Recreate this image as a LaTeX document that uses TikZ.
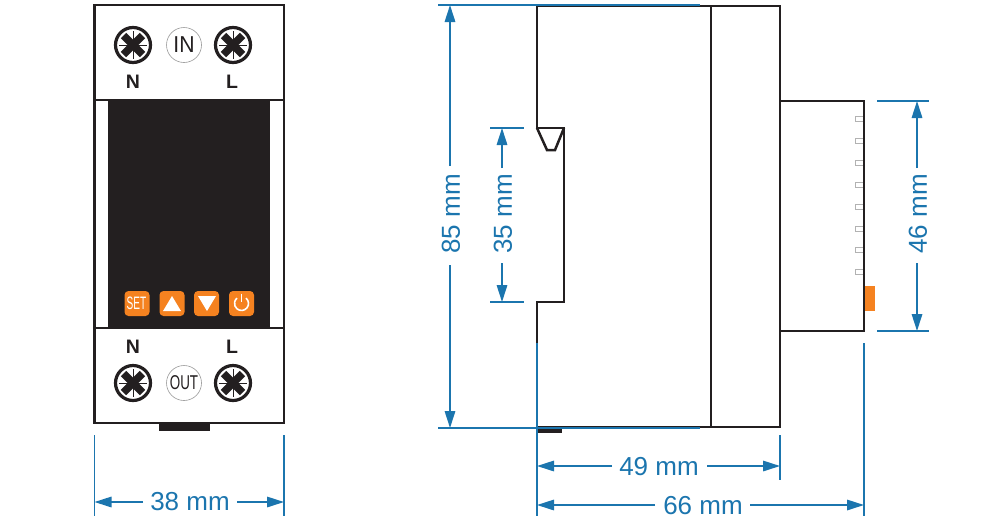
\documentclass[tikz,border=0pt]{standalone}
\usepackage{fontspec}
\usepackage{graphicx}
\setmainfont{Liberation Sans}
\usetikzlibrary{arrows.meta}
\definecolor{dimblue}{HTML}{1B75AE}
\definecolor{ink}{HTML}{231F20}
\definecolor{btn}{HTML}{F58220}
\tikzset{
  body/.style={draw=ink,line width=2.5pt,line join=miter},
  ext/.style={draw=dimblue,line width=1.4pt},
  dimline/.style={draw=dimblue,line width=1.6pt,-{Triangle[length=17pt,width=10.5pt]}},
  dimtext/.style={text=dimblue,font=\fontsize{26}{27}\selectfont,inner sep=0pt},
  termtext/.style={text=ink,font=\fontsize{19.5}{20}\bfseries\selectfont,inner sep=0pt},
  btnbox/.style={fill=btn,rounded corners=4pt},
  pinbox/.style={draw=black!30,line width=1pt,fill=white},
  badge/.style={circle,draw=black!40,line width=.6pt,fill=white,minimum size=35pt,inner sep=0pt,text=ink},
  screw/.pic={
    \draw[ink,line width=3.2pt,fill=white] (0,0) circle (17.5pt);
    \draw[ink,line width=.8pt] (-14,0) -- (14,0) (0,-14) -- (0,14);
    \draw[ink,line width=7.5pt] (-9.5,-9.5) -- (9.5,9.5) (-9.5,9.5) -- (9.5,-9.5);
  }
}
\begin{document}
\begin{tikzpicture}[x=1pt,y=-1pt]
\useasboundingbox (0,0) rectangle (1000,520);
% front view
\fill[ink] (108,100) rectangle (270,328);
\fill[ink] (159,423) rectangle (210,431);
\draw[body] (94.5,5) rectangle (284,423);
\draw[body] (94.5,100) -- (284,100);
\draw[body] (94.5,328) -- (284,328);
\pic at (133,45) {screw};
\pic at (233,45) {screw};
\pic at (133,383) {screw};
\pic at (233,383) {screw};
\node[badge] (in) at (184,45) {\fontsize{23}{24}\selectfont\scalebox{.92}[1]{IN}};
\node[badge] (out) at (184,383) {\fontsize{20}{21}\selectfont\scalebox{.67}[1]{OUT}};
\node[termtext] (n1) at (133,82) {N};
\node[termtext] (l1) at (232,82) {L};
\node[termtext] (n2) at (133,347) {N};
\node[termtext] (l2) at (232,347) {L};
% buttons
\fill[btnbox] (124.5,291) rectangle (149.5,316);
\fill[btnbox] (159.5,291) rectangle (184.5,316);
\fill[btnbox] (194,291) rectangle (219,316);
\fill[btnbox] (229,291) rectangle (254,316);
\node[text=white,inner sep=0pt] (set) at (136.5,303.5) {\fontsize{18}{18}\selectfont\scalebox{.56}[1]{SET}};
\fill[white] (172,296) -- (181,311) -- (163,311) -- cycle;
\fill[white] (198,296) -- (216,296) -- (207,311) -- cycle;
\draw[white,line width=1.6pt] (241.5,293.5) -- (241.5,302);
\draw[white,line width=1.6pt] (246,298.1) arc[start angle=-50,end angle=230,radius=7];
% side view
\draw[body] (537,6) -- (537,128) -- (564,128) -- (564,302) -- (537,302) -- (537,427) -- (780,427) -- (780,6) -- cycle;
\draw[body] (711,6) -- (711,427);
\draw[body] (537,128) -- (547,150) -- (555,150) -- (564,128);
\fill[ink] (537,426) rectangle (562,433);
\foreach \y in {119,141,163,185,207,229,250,272}
  \draw[pinbox] (855,\y-2.5) rectangle (864,\y+2.5);
\draw[body] (780,101) -- (864,101) -- (864,331) -- (780,331);
\fill[btn] (865,286) rectangle (875,311);
% dimension anchors
\coordinate (t85) at (450,5);
\coordinate (b85) at (450,428);
\coordinate (t35) at (502,128);
\coordinate (b35) at (502,302);
\coordinate (t46) at (917,101);
\coordinate (b46) at (917,331);
\coordinate (l38) at (94.5,502);
\coordinate (r38) at (284,502);
\coordinate (l49) at (537,466);
\coordinate (r49) at (780,466);
\coordinate (l66) at (537,505);
\coordinate (r66) at (864,505);
% extension lines
\draw[ext] (438,5) -- (700,5);
\draw[ext] (438,428) -- (700,428);
\draw[ext] (490,128) -- (524,128);
\draw[ext] (490,302) -- (524,302);
\draw[ext] (877,101) -- (929,101);
\draw[ext] (877,331) -- (929,331);
\draw[ext] (94.5,435) -- (94.5,516);
\draw[ext] (284,435) -- (284,516);
\draw[ext] (537,343) -- (537,516);
\draw[ext] (780,435) -- (780,480);
\draw[ext] (864,343) -- (864,516);
% labels
\node[dimtext,rotate=90] (d85) at (451,214) {85 mm};
\node[dimtext,rotate=90] (d35) at (503,214) {35 mm};
\node[dimtext,rotate=90] (d46) at (918,214) {46 mm};
\node[dimtext] (d38) at (190,502) {38 mm};
\node[dimtext] (d49) at (659,467) {49 mm};
\node[dimtext] (d66) at (703,506) {66 mm};
% dimension lines
\draw[dimline] (450,166) -- (t85);
\draw[dimline] (450,265) -- (b85);
\draw[dimline] (502,168) -- (t35);
\draw[dimline] (502,263) -- (b35);
\draw[dimline] (917,168) -- (t46);
\draw[dimline] (917,263) -- (b46);
\draw[dimline] (143,502) -- (l38);
\draw[dimline] (237,502) -- (r38);
\draw[dimline] (612,466) -- (l49);
\draw[dimline] (707,466) -- (r49);
\draw[dimline] (655,505) -- (l66);
\draw[dimline] (750,505) -- (r66);
\end{tikzpicture}
\end{document}
